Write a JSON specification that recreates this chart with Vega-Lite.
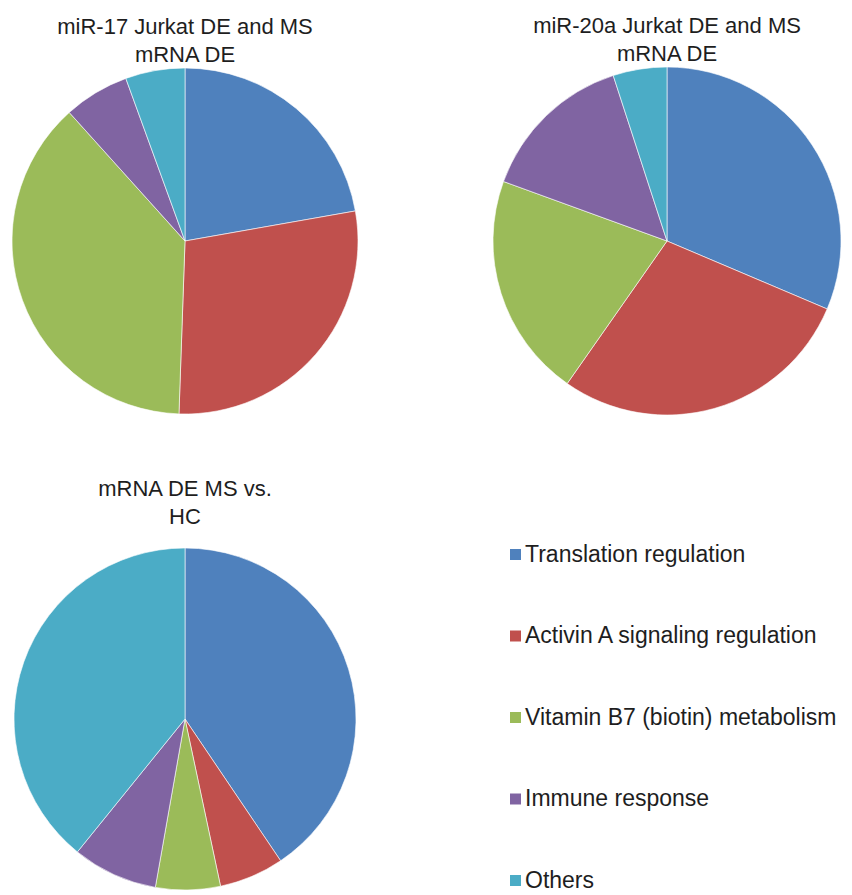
{
  "$schema": "https://vega.github.io/schema/vega-lite/v6.json",
  "padding": {"left": 10, "top": 14, "right": 0, "bottom": 0},
  "background": "white",
  "datasets": {
    "pies": [
      {"chart": "A", "category": "Translation regulation", "order": 1, "value": 80},
      {"chart": "A", "category": "Activin A signaling regulation", "order": 2, "value": 102},
      {"chart": "A", "category": "Vitamin B7 (biotin) metabolism", "order": 3, "value": 136},
      {"chart": "A", "category": "Immune response", "order": 4, "value": 22},
      {"chart": "A", "category": "Others", "order": 5, "value": 20},
      {"chart": "B", "category": "Translation regulation", "order": 1, "value": 113},
      {"chart": "B", "category": "Activin A signaling regulation", "order": 2, "value": 102},
      {"chart": "B", "category": "Vitamin B7 (biotin) metabolism", "order": 3, "value": 75},
      {"chart": "B", "category": "Immune response", "order": 4, "value": 52},
      {"chart": "B", "category": "Others", "order": 5, "value": 18},
      {"chart": "C", "category": "Translation regulation", "order": 1, "value": 146},
      {"chart": "C", "category": "Activin A signaling regulation", "order": 2, "value": 22},
      {"chart": "C", "category": "Vitamin B7 (biotin) metabolism", "order": 3, "value": 22},
      {"chart": "C", "category": "Immune response", "order": 4, "value": 29},
      {"chart": "C", "category": "Others", "order": 5, "value": 141}
    ]
  },
  "config": {
    "view": {"stroke": null},
    "title": {"font": "Liberation Sans", "fontSize": 22, "fontWeight": "normal", "color": "#1e1e1e", "lineHeight": 28, "anchor": "middle"},
    "legend": {
      "orient": "none", "legendX": 493, "legendY": 476,
      "symbolType": "square", "symbolSize": 121, "symbolStrokeWidth": 0,
      "labelFont": "Liberation Sans", "labelFontSize": 23, "labelColor": "#1e1e1e",
      "labelOffset": -2, "labelLimit": 400, "rowPadding": 57.5
    }
  },
  "vconcat": [
    {
      "hconcat": [
        {
          "title": {"text": ["miR-17 Jurkat DE and MS", "mRNA DE"], "offset": 0},
          "width": 348, "height": 348,
          "data": {"name": "pies"},
          "transform": [{"filter": "datum.chart == 'A'"}],
          "mark": {"type": "arc", "stroke": "white", "strokeWidth": 0.6, "radius": 173},
          "encoding": {
            "theta": {"field": "value", "type": "quantitative", "stack": true},
            "order": {"field": "order", "type": "quantitative"},
            "color": {"field": "category", "type": "nominal", "title": null,
              "sort": ["Translation regulation", "Activin A signaling regulation", "Vitamin B7 (biotin) metabolism", "Immune response", "Others"],
              "scale": {"domain": ["Translation regulation", "Activin A signaling regulation", "Vitamin B7 (biotin) metabolism", "Immune response", "Others"],
                        "range": ["#4F81BD", "#C0504D", "#9BBB59", "#8064A2", "#4BACC6"]}}
          }
        },
        {
          "title": {"text": ["miR-20a Jurkat DE and MS", "mRNA DE"], "offset": 0},
          "width": 348, "height": 348,
          "data": {"name": "pies"},
          "transform": [{"filter": "datum.chart == 'B'"}],
          "mark": {"type": "arc", "stroke": "white", "strokeWidth": 0.6},
          "encoding": {
            "theta": {"field": "value", "type": "quantitative", "stack": true},
            "order": {"field": "order", "type": "quantitative"},
            "color": {"field": "category", "type": "nominal", "title": null,
              "sort": ["Translation regulation", "Activin A signaling regulation", "Vitamin B7 (biotin) metabolism", "Immune response", "Others"],
              "scale": {"domain": ["Translation regulation", "Activin A signaling regulation", "Vitamin B7 (biotin) metabolism", "Immune response", "Others"],
                        "range": ["#4F81BD", "#C0504D", "#9BBB59", "#8064A2", "#4BACC6"]}}
          }
        }
      ],
      "spacing": 131
    },
    {
      "title": {"text": ["mRNA DE MS vs.", "HC"], "offset": 18},
      "width": 348, "height": 342,
      "data": {"name": "pies"},
      "transform": [{"filter": "datum.chart == 'C'"}],
      "mark": {"type": "arc", "stroke": "white", "strokeWidth": 0.6, "radius": 171},
      "encoding": {
        "theta": {"field": "value", "type": "quantitative", "stack": true},
        "order": {"field": "order", "type": "quantitative"},
        "color": {"field": "category", "type": "nominal", "title": null,
          "sort": ["Translation regulation", "Activin A signaling regulation", "Vitamin B7 (biotin) metabolism", "Immune response", "Others"],
          "scale": {"domain": ["Translation regulation", "Activin A signaling regulation", "Vitamin B7 (biotin) metabolism", "Immune response", "Others"],
                    "range": ["#4F81BD", "#C0504D", "#9BBB59", "#8064A2", "#4BACC6"]}}
      }
    }
  ],
  "spacing": 60
}
